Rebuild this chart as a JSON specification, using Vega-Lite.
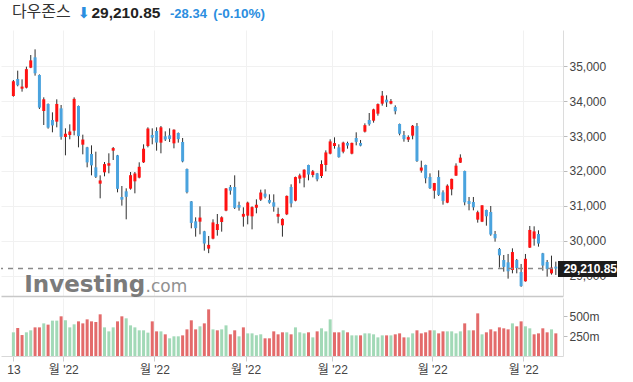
{
  "$schema": "https://vega.github.io/schema/vega-lite/v6.json",
  "background": "white",
  "padding": {"left": 0, "top": 4, "right": 0, "bottom": 0},
  "spacing": 0,
  "config": {
    "view": {"stroke": null},
    "axis": {"labelFont": "Liberation Sans, Noto Sans CJK KR", "labelFontSize": 12, "labelColor": "#444", "labelOverlap": false, "labelFlush": false}
  },
  "resolve": {"scale": {"x": "independent", "y": "independent", "color": "independent"}},
  "datasets": {
    "d": [
      {"i":0,"o":34143,"h":34600,"l":34124,"c":34565,"v":296,"dir":"up"},
      {"i":1,"o":34629,"h":34867,"l":34420,"c":34451,"v":350,"dir":"down"},
      {"i":2,"o":34352,"h":34619,"l":34267,"c":34412,"v":262,"dir":"down"},
      {"i":3,"o":34381,"h":34981,"l":34360,"c":34911,"v":296,"dir":"up"},
      {"i":4,"o":34952,"h":35314,"l":34940,"c":35161,"v":321,"dir":"up"},
      {"i":5,"o":35248,"h":35476,"l":34724,"c":34792,"v":358,"dir":"down"},
      {"i":6,"o":34743,"h":34760,"l":33771,"c":33811,"v":358,"dir":"down"},
      {"i":7,"o":33714,"h":34105,"l":33314,"c":34049,"v":408,"dir":"up"},
      {"i":8,"o":33914,"h":33930,"l":33210,"c":33240,"v":392,"dir":"down"},
      {"i":9,"o":33457,"h":33676,"l":33105,"c":33302,"v":442,"dir":"up"},
      {"i":10,"o":33410,"h":34048,"l":33248,"c":33916,"v":442,"dir":"up"},
      {"i":11,"o":33790,"h":33886,"l":32895,"c":32977,"v":496,"dir":"down"},
      {"i":12,"o":32971,"h":33219,"l":32448,"c":33061,"v":446,"dir":"up"},
      {"i":13,"o":33029,"h":33333,"l":32905,"c":33129,"v":358,"dir":"up"},
      {"i":14,"o":33152,"h":34105,"l":33019,"c":34061,"v":396,"dir":"up"},
      {"i":15,"o":33857,"h":33870,"l":32676,"c":32998,"v":433,"dir":"down"},
      {"i":16,"o":32752,"h":33038,"l":32476,"c":32899,"v":408,"dir":"down"},
      {"i":17,"o":32676,"h":32690,"l":32105,"c":32246,"v":458,"dir":"down"},
      {"i":18,"o":32486,"h":32733,"l":31876,"c":32161,"v":433,"dir":"down"},
      {"i":19,"o":32105,"h":32552,"l":31800,"c":31834,"v":425,"dir":"down"},
      {"i":20,"o":31638,"h":31876,"l":31219,"c":31730,"v":521,"dir":"down"},
      {"i":21,"o":31962,"h":32257,"l":31848,"c":32197,"v":358,"dir":"up"},
      {"i":22,"o":32152,"h":32505,"l":31933,"c":32223,"v":308,"dir":"up"},
      {"i":23,"o":32581,"h":32686,"l":32314,"c":32655,"v":358,"dir":"up"},
      {"i":24,"o":32448,"h":32460,"l":31390,"c":31490,"v":433,"dir":"down"},
      {"i":25,"o":31257,"h":31571,"l":31010,"c":31181,"v":496,"dir":"down"},
      {"i":26,"o":31419,"h":31505,"l":30619,"c":31262,"v":471,"dir":"up"},
      {"i":27,"o":31495,"h":31971,"l":31467,"c":31880,"v":383,"dir":"up"},
      {"i":28,"o":31705,"h":31971,"l":31362,"c":31929,"v":358,"dir":"up"},
      {"i":29,"o":31810,"h":32248,"l":31790,"c":32120,"v":321,"dir":"up"},
      {"i":30,"o":32248,"h":32762,"l":32230,"c":32637,"v":321,"dir":"up"},
      {"i":31,"o":32714,"h":33248,"l":32676,"c":33213,"v":292,"dir":"up"},
      {"i":32,"o":33029,"h":33219,"l":32762,"c":32952,"v":433,"dir":"down"},
      {"i":33,"o":33143,"h":33248,"l":32581,"c":32813,"v":308,"dir":"down"},
      {"i":34,"o":32810,"h":33286,"l":32505,"c":33248,"v":308,"dir":"up"},
      {"i":35,"o":32990,"h":33133,"l":32857,"c":32900,"v":271,"dir":"down"},
      {"i":36,"o":33019,"h":33219,"l":32829,"c":32916,"v":221,"dir":"up"},
      {"i":37,"o":32790,"h":33190,"l":32648,"c":33180,"v":246,"dir":"up"},
      {"i":38,"o":33086,"h":33100,"l":32810,"c":32911,"v":246,"dir":"up"},
      {"i":39,"o":32829,"h":32943,"l":32248,"c":32273,"v":258,"dir":"down"},
      {"i":40,"o":32057,"h":32070,"l":31360,"c":31393,"v":333,"dir":"down"},
      {"i":41,"o":31133,"h":31140,"l":30362,"c":30517,"v":446,"dir":"down"},
      {"i":42,"o":30562,"h":30676,"l":30124,"c":30365,"v":333,"dir":"down"},
      {"i":43,"o":30552,"h":30990,"l":30190,"c":30669,"v":371,"dir":"up"},
      {"i":44,"o":30276,"h":30290,"l":29724,"c":29927,"v":408,"dir":"down"},
      {"i":45,"o":29781,"h":30143,"l":29652,"c":29889,"v":583,"dir":"down"},
      {"i":46,"o":30067,"h":30619,"l":30048,"c":30530,"v":333,"dir":"up"},
      {"i":47,"o":30314,"h":30771,"l":30152,"c":30483,"v":321,"dir":"down"},
      {"i":48,"o":30543,"h":30705,"l":30267,"c":30677,"v":333,"dir":"up"},
      {"i":49,"o":30867,"h":31514,"l":30850,"c":31501,"v":383,"dir":"up"},
      {"i":50,"o":31543,"h":31600,"l":31324,"c":31438,"v":271,"dir":"down"},
      {"i":51,"o":31543,"h":31876,"l":30914,"c":30947,"v":321,"dir":"down"},
      {"i":52,"o":31029,"h":31124,"l":30867,"c":30952,"v":246,"dir":"up"},
      {"i":53,"o":30695,"h":30962,"l":30410,"c":30775,"v":358,"dir":"down"},
      {"i":54,"o":30724,"h":31124,"l":30476,"c":31097,"v":283,"dir":"up"},
      {"i":55,"o":30705,"h":30990,"l":30333,"c":30968,"v":283,"dir":"up"},
      {"i":56,"o":30952,"h":31190,"l":30790,"c":31038,"v":258,"dir":"up"},
      {"i":57,"o":31181,"h":31467,"l":31143,"c":31385,"v":271,"dir":"up"},
      {"i":58,"o":31352,"h":31476,"l":31219,"c":31267,"v":221,"dir":"down"},
      {"i":59,"o":31171,"h":31333,"l":31067,"c":31095,"v":221,"dir":"down"},
      {"i":60,"o":31105,"h":31333,"l":30838,"c":30981,"v":308,"dir":"down"},
      {"i":61,"o":30695,"h":30952,"l":30505,"c":30773,"v":271,"dir":"down"},
      {"i":62,"o":30448,"h":30648,"l":30124,"c":30630,"v":296,"dir":"down"},
      {"i":63,"o":30762,"h":31300,"l":30740,"c":31288,"v":296,"dir":"up"},
      {"i":64,"o":31543,"h":31619,"l":30962,"c":31073,"v":271,"dir":"down"},
      {"i":65,"o":31152,"h":31840,"l":31133,"c":31827,"v":358,"dir":"up"},
      {"i":66,"o":31781,"h":31924,"l":31648,"c":31875,"v":296,"dir":"up"},
      {"i":67,"o":31810,"h":32048,"l":31533,"c":32037,"v":283,"dir":"up"},
      {"i":68,"o":32171,"h":32180,"l":31733,"c":31899,"v":296,"dir":"down"},
      {"i":69,"o":31886,"h":32029,"l":31819,"c":31990,"v":233,"dir":"up"},
      {"i":70,"o":31933,"h":31945,"l":31705,"c":31762,"v":308,"dir":"down"},
      {"i":71,"o":31857,"h":32305,"l":31800,"c":32198,"v":346,"dir":"up"},
      {"i":72,"o":32171,"h":32590,"l":31990,"c":32530,"v":308,"dir":"up"},
      {"i":73,"o":32495,"h":32905,"l":32476,"c":32845,"v":458,"dir":"up"},
      {"i":74,"o":32714,"h":32962,"l":32638,"c":32798,"v":296,"dir":"down"},
      {"i":75,"o":32676,"h":32762,"l":32381,"c":32396,"v":296,"dir":"down"},
      {"i":76,"o":32552,"h":32838,"l":32505,"c":32812,"v":321,"dir":"up"},
      {"i":77,"o":32800,"h":32838,"l":32638,"c":32727,"v":296,"dir":"down"},
      {"i":78,"o":32495,"h":32810,"l":32476,"c":32803,"v":258,"dir":"up"},
      {"i":79,"o":32943,"h":33105,"l":32733,"c":32833,"v":258,"dir":"up"},
      {"i":80,"o":32800,"h":32886,"l":32705,"c":32724,"v":258,"dir":"down"},
      {"i":81,"o":33124,"h":33362,"l":33100,"c":33310,"v":283,"dir":"up"},
      {"i":82,"o":33457,"h":33657,"l":33295,"c":33337,"v":283,"dir":"up"},
      {"i":83,"o":33438,"h":33780,"l":33381,"c":33761,"v":271,"dir":"up"},
      {"i":84,"o":33638,"h":33930,"l":33581,"c":33912,"v":233,"dir":"up"},
      {"i":85,"o":33924,"h":34286,"l":33867,"c":34152,"v":258,"dir":"up"},
      {"i":86,"o":34038,"h":34162,"l":33829,"c":33960,"v":258,"dir":"down"},
      {"i":87,"o":33924,"h":34057,"l":33905,"c":33999,"v":258,"dir":"up"},
      {"i":88,"o":33829,"h":33876,"l":33619,"c":33707,"v":271,"dir":"down"},
      {"i":89,"o":33343,"h":33355,"l":33019,"c":33064,"v":283,"dir":"down"},
      {"i":90,"o":33029,"h":33143,"l":32838,"c":32910,"v":233,"dir":"down"},
      {"i":91,"o":32895,"h":33019,"l":32829,"c":32969,"v":233,"dir":"up"},
      {"i":92,"o":33010,"h":33314,"l":32905,"c":33292,"v":283,"dir":"up"},
      {"i":93,"o":33286,"h":33371,"l":32260,"c":32283,"v":321,"dir":"down"},
      {"i":94,"o":32010,"h":32295,"l":31952,"c":32099,"v":283,"dir":"down"},
      {"i":95,"o":32171,"h":32180,"l":31648,"c":31791,"v":296,"dir":"down"},
      {"i":96,"o":31829,"h":31933,"l":31486,"c":31510,"v":321,"dir":"down"},
      {"i":97,"o":31438,"h":31660,"l":31210,"c":31656,"v":321,"dir":"up"},
      {"i":98,"o":31829,"h":32019,"l":31286,"c":31318,"v":283,"dir":"down"},
      {"i":99,"o":31390,"h":31448,"l":31038,"c":31145,"v":308,"dir":"down"},
      {"i":100,"o":31095,"h":31619,"l":31080,"c":31581,"v":308,"dir":"up"},
      {"i":101,"o":31476,"h":31781,"l":31305,"c":31775,"v":308,"dir":"up"},
      {"i":102,"o":31867,"h":32219,"l":31860,"c":32152,"v":283,"dir":"up"},
      {"i":103,"o":32238,"h":32476,"l":32230,"c":32381,"v":308,"dir":"up"},
      {"i":104,"o":32000,"h":32010,"l":31019,"c":31105,"v":408,"dir":"down"},
      {"i":105,"o":31143,"h":31257,"l":30876,"c":31057,"v":321,"dir":"up"},
      {"i":106,"o":31114,"h":31257,"l":30876,"c":30962,"v":321,"dir":"down"},
      {"i":107,"o":30610,"h":30867,"l":30524,"c":30822,"v":533,"dir":"down"},
      {"i":108,"o":30552,"h":31020,"l":30540,"c":31020,"v":271,"dir":"up"},
      {"i":109,"o":30886,"h":30895,"l":30438,"c":30706,"v":296,"dir":"down"},
      {"i":110,"o":30829,"h":31000,"l":30150,"c":30184,"v":333,"dir":"down"},
      {"i":111,"o":30200,"h":30286,"l":29981,"c":30077,"v":308,"dir":"down"},
      {"i":112,"o":29771,"h":29800,"l":29238,"c":29590,"v":358,"dir":"down"},
      {"i":113,"o":29457,"h":29600,"l":29124,"c":29261,"v":346,"dir":"down"},
      {"i":114,"o":29390,"h":29629,"l":28924,"c":29135,"v":333,"dir":"down"},
      {"i":115,"o":29171,"h":29790,"l":29076,"c":29684,"v":408,"dir":"up"},
      {"i":116,"o":29457,"h":29486,"l":29076,"c":29226,"v":371,"dir":"down"},
      {"i":117,"o":29114,"h":29343,"l":28690,"c":28710,"v":433,"dir":"down"},
      {"i":118,"o":28848,"h":29629,"l":28838,"c":29491,"v":371,"dir":"up"},
      {"i":119,"o":29810,"h":30429,"l":29800,"c":30316,"v":346,"dir":"up"},
      {"i":120,"o":30067,"h":30419,"l":29867,"c":30274,"v":271,"dir":"down"},
      {"i":121,"o":30200,"h":30305,"l":29838,"c":29927,"v":283,"dir":"down"},
      {"i":122,"o":29648,"h":29660,"l":29152,"c":29297,"v":346,"dir":"down"},
      {"i":123,"o":29400,"h":29457,"l":28981,"c":29203,"v":296,"dir":"down"},
      {"i":124,"o":29076,"h":29581,"l":29038,"c":29239,"v":333,"dir":"up"},
      {"i":125,"o":29267,"h":29410,"l":29029,"c":29210.85,"v":283,"dir":"down"}
    ]
  },
  "vconcat": [
    {
      "width": 562,
      "height": 266,
      "data": {"name": "d"},
      "layer": [
        {
          "mark": {"type": "rule", "color": "#2e2e2e", "strokeWidth": 1},
          "encoding": {
            "x": {"field": "i", "type": "quantitative",
                  "scale": {"domain": [-1.7, 125.5], "nice": false, "zero": false},
                  "axis": {"values": [0, 11.5, 32.5, 53.5, 73.5, 96.5, 117.5], "labels": false, "ticks": false,
                           "domain": true, "domainColor": "#c8c8c8", "domainWidth": 1.5,
                           "grid": true, "gridColor": "#f1f1f1", "title": null}},
            "y": {"field": "l", "type": "quantitative",
                  "scale": {"domain": [28428, 36029], "nice": false, "zero": false},
                  "axis": {"orient": "right", "values": [29000, 30000, 31000, 32000, 33000, 34000, 35000],
                           "format": ",d", "grid": true, "gridColor": "#f1f1f1",
                           "domainColor": "#dcdcdc", "tickColor": "#bbbbbb", "tickSize": 4,
                           "labelPadding": 2, "title": null}},
            "y2": {"field": "h"}
          }
        },
        {
          "mark": {"type": "bar", "width": 3},
          "encoding": {
            "x": {"field": "i", "type": "quantitative"},
            "y": {"field": "o", "type": "quantitative"},
            "y2": {"field": "c"},
            "color": {"condition": {"test": "datum.c >= datum.o", "value": "#ff1212"}, "value": "#4aa3de"}
          }
        },
        {
          "data": {"values": [{}]},
          "mark": {"type": "rule", "color": "#8a8a8a", "strokeWidth": 1.5, "strokeDash": [5, 5]},
          "encoding": {"y": {"datum": 29210.85, "type": "quantitative"}}
        },
        {
          "data": {"values": [{}]},
          "mark": {"type": "text", "text": "Investing", "font": "DejaVu Sans", "fontWeight": "bold", "fontSize": 23,
                   "color": "#6d6d6d", "opacity": 0.9, "align": "left", "baseline": "alphabetic"},
          "encoding": {"x": {"datum": 2.5, "type": "quantitative"}, "y": {"datum": 28542, "type": "quantitative"}}
        },
        {
          "data": {"values": [{}]},
          "mark": {"type": "text", "text": ".com", "font": "DejaVu Sans", "fontSize": 17,
                   "color": "#858585", "opacity": 0.9, "align": "left", "baseline": "alphabetic"},
          "encoding": {"x": {"datum": 30.44, "type": "quantitative"}, "y": {"datum": 28542, "type": "quantitative"}}
        },
        {
          "data": {"values": [{}]},
          "mark": {"type": "rect", "color": "#1c1c1c"},
          "encoding": {
            "x": {"datum": 125.5, "type": "quantitative"}, "x2": {"datum": 139.1},
            "y": {"datum": 28971, "type": "quantitative"}, "y2": {"datum": 29429}
          }
        },
        {
          "data": {"values": [{}]},
          "mark": {"type": "text", "text": "29,210.85", "font": "Liberation Sans", "fontWeight": "bold", "fontSize": 12,
                   "color": "white", "align": "left", "baseline": "middle"},
          "encoding": {"x": {"datum": 126.8, "type": "quantitative"}, "y": {"datum": 29200, "type": "quantitative"}}
        },
        {
          "data": {"values": [{}]},
          "mark": {"type": "text", "text": "다우존스", "font": "Noto Sans CJK KR", "fontSize": 16,
                   "color": "#333333", "align": "left", "baseline": "alphabetic"},
          "encoding": {"x": {"datum": -0.34, "type": "quantitative"}, "y": {"datum": 36390, "type": "quantitative"}}
        },
        {
          "data": {"values": [{}]},
          "mark": {"type": "text", "text": "⬇", "font": "DejaVu Sans", "fontSize": 15,
                   "color": "#2b8ee0", "align": "left", "baseline": "alphabetic"},
          "encoding": {"x": {"datum": 14.8, "type": "quantitative"}, "y": {"datum": 36372, "type": "quantitative"}}
        },
        {
          "data": {"values": [{}]},
          "mark": {"type": "text", "text": "29,210.85", "font": "Liberation Sans", "fontWeight": "bold", "fontSize": 15.5,
                   "color": "#222222", "align": "left", "baseline": "alphabetic"},
          "encoding": {"x": {"datum": 17.99, "type": "quantitative"}, "y": {"datum": 36372, "type": "quantitative"}}
        },
        {
          "data": {"values": [{}]},
          "mark": {"type": "text", "text": "-28.34", "font": "Liberation Sans", "fontWeight": "bold", "fontSize": 13,
                   "color": "#2b8ee0", "align": "left", "baseline": "alphabetic"},
          "encoding": {"x": {"datum": 36.1, "type": "quantitative"}, "y": {"datum": 36372, "type": "quantitative"}}
        },
        {
          "data": {"values": [{}]},
          "mark": {"type": "text", "text": "(-0.10%)", "font": "Liberation Sans", "fontWeight": "bold", "fontSize": 13.5,
                   "color": "#2b8ee0", "align": "left", "baseline": "alphabetic"},
          "encoding": {"x": {"datum": 46.06, "type": "quantitative"}, "y": {"datum": 36372, "type": "quantitative"}}
        }
      ]
    },
    {
      "width": 562,
      "height": 58,
      "data": {"name": "d"},
      "mark": {"type": "bar", "width": 3},
      "encoding": {
        "x": {"field": "i", "type": "quantitative",
              "scale": {"domain": [-1.7, 125.5], "nice": false, "zero": false},
              "axis": {"values": [0, 11.5, 32.5, 53.5, 73.5, 96.5, 117.5],
                       "labelExpr": "datum.value < 1 ? '13' : \"월 '22\"",
                       "grid": true, "gridColor": "#f1f1f1", "domainColor": "#d8d8d8",
                       "tickColor": "#cccccc", "tickSize": 5, "labelPadding": 3, "title": null}},
        "y": {"field": "v", "type": "quantitative",
              "scale": {"domain": [0, 725], "nice": false},
              "axis": {"orient": "right", "values": [250, 500], "labelExpr": "datum.value + 'm'",
                       "grid": false, "domainColor": "#dcdcdc", "tickColor": "#bbbbbb", "tickSize": 4,
                       "labelPadding": 2, "title": null}},
        "color": {"field": "dir", "type": "nominal",
                  "scale": {"domain": ["up", "down"], "range": ["#a2d9b7", "#e36b6b"]}, "legend": null}
      }
    }
  ]
}
